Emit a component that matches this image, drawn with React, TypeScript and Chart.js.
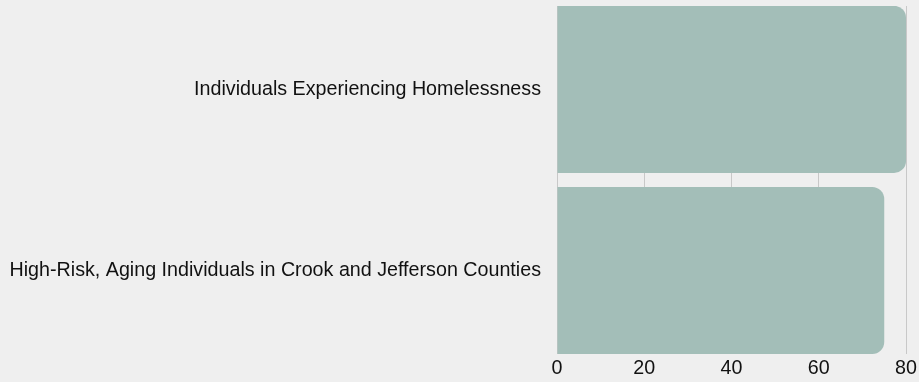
import React, { useEffect, useRef } from "react";
import { Chart, registerables } from "chart.js";

Chart.register(...registerables);

const categories = [
  "Individuals Experiencing Homelessness",
  "High-Risk, Aging Individuals in Crook and Jefferson Counties",
];
const values = [80, 75];
const xTicks = [0, 20, 40, 60, 80];

const FONT = "'Liberation Sans', Arial, sans-serif";

export default function App() {
  const ref = useRef<HTMLCanvasElement>(null);
  useEffect(() => {
    document.body.style.margin = "0";
    document.body.style.background = "#efefef";
    const ctx = ref.current!.getContext("2d")!;
    const chart = new Chart(ctx, {
      type: "bar",
      data: {
        datasets: [
          {
            data: values.map((v, i) => ({ x: v, y: i })),
            backgroundColor: "#a3beb8",
            borderRadius: 12,
            borderSkipped: "start",
            barPercentage: 0.922,
            categoryPercentage: 1,
          },
        ],
      },
      options: {
        indexAxis: "y",
        animation: false,
        responsive: false,
        maintainAspectRatio: false,
        layout: { padding: { top: 6, right: 3, left: 0, bottom: 0 } },
        plugins: { legend: { display: false }, tooltip: { enabled: false } },
        scales: {
          x: {
            type: "linear",
            min: 0,
            max: 80,
            afterBuildTicks: (axis: any) => {
              axis.ticks = xTicks.map((v) => ({ value: v }));
            },
            grid: { color: "#c8c8c8", drawTicks: false, lineWidth: 1 },
            border: { display: false },
            ticks: {
              color: "#111",
              font: { family: FONT, size: 19.7 },
              padding: 2,
            },
          },
          y: {
            type: "linear",
            reverse: true,
            offset: false,
            min: -0.46,
            max: 1.4626,
            afterBuildTicks: (axis: any) => {
              axis.ticks = categories.map((_, i) => ({ value: i }));
            },
            grid: { display: false, drawTicks: false, offset: false },
            border: { display: false },
            ticks: {
              color: "#111",
              font: { family: FONT, size: 19.7 },
              padding: 16,
              callback: (v: any) => categories[v as number] ?? "",
            },
            afterFit: (axis: any) => {
              axis.width = 557;
              axis.paddingTop = 0;
              axis.paddingBottom = 0;
            },
          },
        },
      },
    });
    return () => chart.destroy();
  }, []);
  return (
    <div style={{ width: 919, height: 382, background: "#efefef" }}>
      <canvas ref={ref} width={919} height={382} />
    </div>
  );
}
